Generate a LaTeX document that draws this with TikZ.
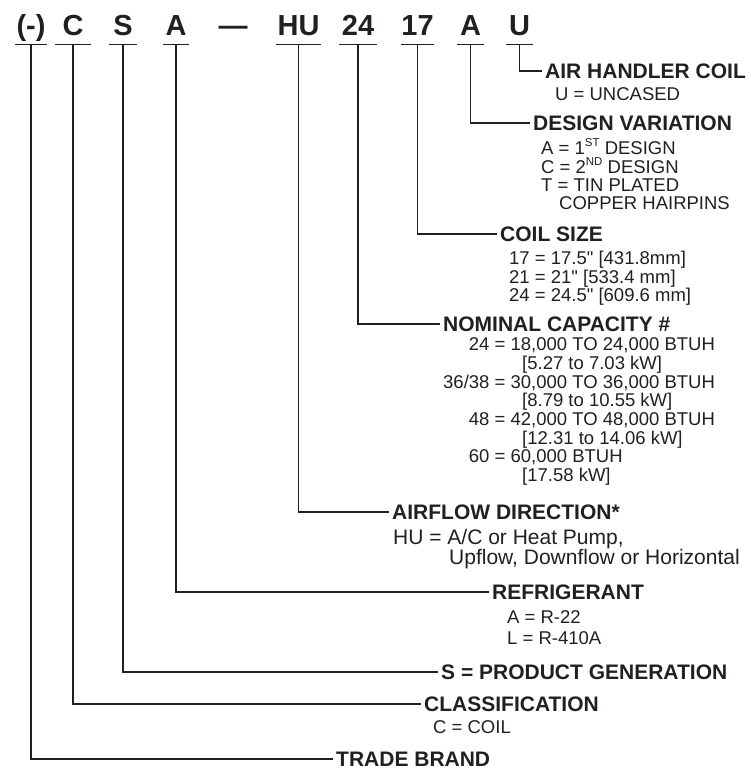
\documentclass[tikz,border=0pt]{standalone}
\usepackage{fontspec}
\setmainfont{Liberation Sans}[Ligatures=TeXOff]
\definecolor{ink}{RGB}{35,31,32}
\newcommand\ordsup[1]{\raisebox{0.42em}{\fontsize{11.5}{11.5}\selectfont #1}}

\begin{document}
\begin{tikzpicture}[x=1pt,y=-1pt,
  codebox/.style={font=\fontsize{29}{29}\selectfont\bfseries, text=ink, anchor=base,
    inner sep=0pt, text depth=8pt, minimum width=#1},
  headtext/.style={font=\fontsize{21}{21}\selectfont\bfseries, text=ink, anchor=west,
    inner xsep=3pt, inner ysep=0pt, text height=15pt, text depth=0pt},
  notetext/.style={font=\fontsize{18.5}{18.4}\selectfont, text=ink, anchor=base west,
    inner sep=0pt, align=left},
  leader/.style={draw=ink, line width=1.2pt}]
\useasboundingbox (0,0) rectangle (751,770);

% model number
\node[codebox=32] (brand) at (31,36) {(-)};
\node[codebox=36] (class) at (73,36) {C};
\node[codebox=28] (gen) at (123,36) {S};
\node[codebox=26] (refr) at (176,36) {A};
\node[codebox=0] (sep) at (233,36) {—};
\node[codebox=45] (flow) at (298.5,36) {HU};
\node[codebox=38] (cap) at (358,36) {24};
\node[codebox=31] (size) at (417.5,36) {17};
\node[codebox=27] (design) at (470.5,36) {A};
\node[codebox=27] (coil) at (519.5,36) {U};

\foreach \n in {brand,class,gen,refr,flow,cap,size,design,coil}
  \draw[leader] (\n.south west) -- (\n.south east);

% AIR HANDLER COIL
\node[headtext] (coilhead) at (542,71) {AIR HANDLER COIL};
\node[notetext] (coilnote) at (555,100.6) {U = UNCASED};

% DESIGN VARIATION (notes are placed by the baseline of their last line)
\node[headtext] (designhead) at (530,123) {DESIGN VARIATION};
\node[notetext] (designnote) at (541,209.8) {A = 1\ordsup{ST} DESIGN\\
  C = 2\ordsup{ND} DESIGN\\ T = TIN PLATED\\ \hspace*{18pt}COPPER HAIRPINS};

% COIL SIZE
\node[headtext] (sizehead) at (497,234) {COIL SIZE};
\node[notetext] (sizenote) at (509,301.4) {17 = 17.5" [431.8mm]\\
  21 = 21" [533.4 mm]\\ 24 = 24.5" [609.6 mm]};

% NOMINAL CAPACITY
\node[headtext] (caphead) at (440,324) {NOMINAL CAPACITY \#};
\node[notetext, font=\fontsize{18.5}{18.7}\selectfont] (capnote) at (443,481.5) {%
  \makebox[46.3pt][r]{24} = 18,000 TO 24,000 BTUH\\
  \hspace*{79pt}[5.27 to 7.03 kW]\\
  \makebox[46.3pt][r]{36/38} = 30,000 TO 36,000 BTUH\\
  \hspace*{79pt}[8.79 to 10.55 kW]\\
  \makebox[46.3pt][r]{48} = 42,000 TO 48,000 BTUH\\
  \hspace*{79pt}[12.31 to 14.06 kW]\\
  \makebox[46.3pt][r]{60} = 60,000 BTUH\\
  \hspace*{79pt}[17.58 kW]};

% AIRFLOW DIRECTION
\node[headtext] (flowhead) at (389,512) {AIRFLOW DIRECTION*};
\node[notetext, font=\fontsize{21}{20}\selectfont] (flownote) at (393,564.5) {HU = A/C or Heat Pump,\\
  \hspace*{56pt}Upflow, Downflow or Horizontal};

% REFRIGERANT
\node[headtext] (refrhead) at (489,592) {REFRIGERANT};
\node[notetext, font=\fontsize{18.5}{21}\selectfont] (refrnote) at (507,644.6) {A = R-22\\ L = R-410A};

% PRODUCT GENERATION, CLASSIFICATION, TRADE BRAND
\node[headtext] (genhead) at (438,672) {S = PRODUCT GENERATION};
\node[headtext] (classhead) at (421,704) {CLASSIFICATION};
\node[notetext] (classnote) at (433,733.6) {C = COIL};
\node[headtext] (brandhead) at (333,759) {TRADE BRAND};

% leaders
\foreach \c/\h in {coil/coilhead,design/designhead,size/sizehead,cap/caphead,
    flow/flowhead,refr/refrhead,gen/genhead,class/classhead,brand/brandhead}
  \draw[leader] (\c.south) |- (\h.west);

\end{tikzpicture}
\end{document}
